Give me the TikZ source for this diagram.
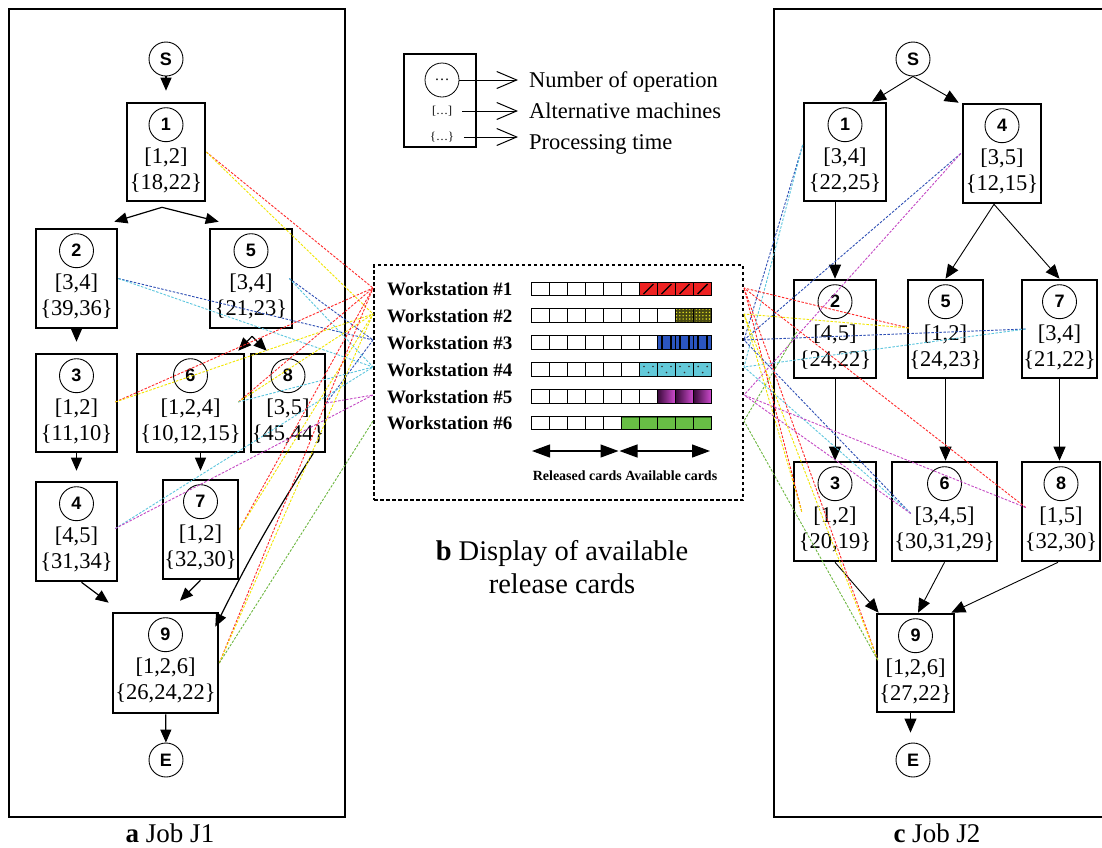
\documentclass[tikz,border=0pt]{standalone}
\usepackage{fontspec}
\setmainfont{Liberation Serif}
\newfontfamily\sansf{Liberation Sans}
\usetikzlibrary{arrows.meta,calc,patterns.meta}

\definecolor{wred}{HTML}{FF2A2A}
\definecolor{wyel}{HTML}{F2E600}
\definecolor{wblue}{HTML}{2E4FB5}
\definecolor{wcyan}{HTML}{5CC6DE}
\definecolor{wmag}{HTML}{C447C4}
\definecolor{wgreen}{HTML}{6DB740}
\definecolor{cardred}{HTML}{EE2222}
\definecolor{cardolive}{HTML}{4A4A12}
\definecolor{carddots}{HTML}{E0E020}
\definecolor{cardblue}{HTML}{2B55C0}
\definecolor{cardcyan}{HTML}{62C9D9}
\definecolor{cardpurpD}{HTML}{3A0A3A}
\definecolor{cardpurpL}{HTML}{D24CD2}
\definecolor{cardgreen}{HTML}{68BE45}
\definecolor{darkgreen}{HTML}{2E6A1A}

\newcommand\mkop[8]{%
  \node[opbox, minimum width=#4pt, minimum height=#5pt] (#1) at (#2,#3) {};
  \node[numc] (#1n) at ($(#1.north)+(0,23)$) {#6};
  \node[optxt] (#1m) at ($(#1.north)+(0,56)$) {#7};
  \node[optxt] (#1t) at ($(#1.north)+(0,82)$) {#8};
}

\begin{document}
\begin{tikzpicture}[x=1pt,y=-1pt,
  opbox/.style={draw, line width=2.6pt, inner sep=0pt},
  numc/.style={draw, circle, line width=0.9pt, minimum size=34pt, inner sep=0pt,
    font=\sansf\bfseries\fontsize{18}{18}\selectfont},
  optxt/.style={inner sep=0pt, font=\fontsize{22.5}{24}\selectfont},
  arr/.style={line width=1.2pt, -{Triangle[length=13pt,width=11pt]}},
  arrb/.style={line width=0.9pt, -{Triangle[length=14pt,width=12pt]}},
  wsl/.style={dash pattern=on 2.5pt off 1.5pt, line width=0.9pt},
  frame/.style={line width=2.5pt},
  capfont/.style={inner sep=0pt, font=\fontsize{27}{30}\selectfont},
  capbfont/.style={inner sep=0pt, font=\fontsize{28.5}{30}\selectfont},
  legtxt/.style={inner sep=0pt, font=\fontsize{22.5}{24}\selectfont},
  legarr/.style={line width=1pt, -{Straight Barb[length=20pt,width=17pt]}},
  wslab/.style={inner sep=0pt, font=\bfseries\fontsize{19}{20}\selectfont},
  cell/.style={line width=0.9pt},
  dblarr/.style={line width=1.2pt, {Triangle[length=18pt,width=13pt]}-{Triangle[length=18pt,width=13pt]}}
]
\useasboundingbox (0,0) rectangle (1102,847);
\fill[white] (0,0) rectangle (1102,847);

% ---------------- frames ----------------
\node[draw, frame, minimum width=336pt, minimum height=808pt, inner sep=0pt] (jobA) at (177,413) {};
\draw[frame] (1104,9) -- (774,9) -- (774,817) -- (1104,817);

% ---------------- Job J1 ----------------
\node[numc] (s1) at (166,59) {S};
\node[numc] (e1) at (166,760) {E};
\mkop{a1}{166}{152}{78}{98}{1}{[1,2]}{\{18,22\}}
\mkop{a2}{76.5}{278.5}{81}{99}{2}{[3,4]}{\{39,36\}}
\mkop{a5}{251}{278.5}{82}{99}{5}{[3,4]}{\{21,23\}}
\mkop{a3}{76.5}{403}{81}{98}{3}{[1,2]}{\{11,10\}}
\mkop{a6}{190.5}{403}{107}{98}{6}{[1,2,4]}{\{10,12,15\}}
\mkop{a8}{288}{403}{74}{98}{8}{[3,5]}{\{45,44\}}
\mkop{a4}{76.5}{531.5}{81}{99}{4}{[4,5]}{\{31,34\}}
\mkop{a7}{200.5}{529.5}{75}{99}{7}{[1,2]}{\{32,30\}}
\mkop{a9}{165.5}{663}{105}{100}{9}{[1,2,6]}{\{26,24,22\}}

\draw[arr, shorten >=11pt] (s1) -- (a1);
\draw[arr] ($(a1.south)+(-4,5)$) -- ($(a2.north east)+(-4,-6)$);
\draw[arr] ($(a1.south)+(-4,5)$) -- ($(a5.north west)+(10,-6)$);
\draw[arr, shorten >=11pt] (a2) -- (a3);
\draw[arr] ($(a5.south)+(1,7)$) -- ($(a6.north east)+(-7,-2)$);
\draw[arr] ($(a5.south)+(1,7)$) -- ($(a8.north west)+(17,-2)$);
\draw[arr, shorten >=10pt] (a3) -- (a4);
\draw[arr, shorten >=8pt] (a7.north |- a6.south) -- (a7.north);
\draw[arr] ($(a4.south)+(5,0)$) -- ($(a9.north west)+(-3,-9)$);
\draw[arr] (a7.south) -- ($(a9.north)+(14.5,-11)$);
\draw[arr] ($(a8.south east)+(-13,0)$) to[bend right=3] ($(a9.north east)+(-4,15)$);
\draw[arr] (a9) -- (e1);

\node[capfont, anchor=base] (capA) at (170,842) {\textbf{a} Job J1};

% ---------------- Job J2 ----------------
\node[numc] (s2) at (913,59) {S};
\node[numc] (e2) at (913,760) {E};
\mkop{c1}{845}{152}{82}{98}{1}{[3,4]}{\{22,25\}}
\mkop{c4}{1002}{153.5}{78}{99}{4}{[3,5]}{\{12,15\}}
\mkop{c2}{835}{329}{82}{98}{2}{[4,5]}{\{24,22\}}
\mkop{c5}{945.5}{329}{75}{98}{5}{[1,2]}{\{24,23\}}
\mkop{c7}{1059.5}{329}{75}{98}{7}{[3,4]}{\{21,22\}}
\mkop{c3}{835}{511.5}{82}{99}{3}{[1,2]}{\{20,19\}}
\mkop{c6}{944.5}{511.5}{105}{99}{6}{[3,4,5]}{\{30,31,29\}}
\mkop{c8}{1061}{511.5}{78}{99}{8}{[1,5]}{\{32,30\}}
\mkop{c9}{915.5}{663}{77}{98}{9}{[1,2,6]}{\{27,22\}}

\draw[arrb] (s2.south) -- ($(c1.north)+(27,0)$);
\draw[arrb] (s2.south) -- ($(c4.north west)+(-3,0)$);
\draw[arrb] (c2.north |- c1.south) -- (c2.north);
\draw[arrb] ($(c4.south)+(-8,0)$) -- (c5.north);
\draw[arrb] ($(c4.south)+(-8,0)$) -- (c7.north);
\draw[arrb] (c2) -- (c3);
\draw[arrb] (c5.south) -- (c5.south |- c6.north);
\draw[arrb] (c7.south) -- (c7.south |- c8.north);
\draw[arrb] (c3.south) -- ($(c9.north west)+(3,0)$);
\draw[arrb] (c6.south) -- ($(c9.north)+(2.5,0)$);
\draw[arrb] ($(c8.south)+(-3,0)$) -- ($(c9.north east)+(-4,0)$);
\draw[arrb, shorten >=10pt] ($(c9.south)+(-5,0)$) -- ($(c9.south |- e2.north)+(-5,0)$);

\node[capfont, anchor=base] (capC) at (937,842) {\textbf{c} Job J2};

% ---------------- legend ----------------
\node[draw, line width=2.4pt, minimum width=72pt, minimum height=93pt, inner sep=0pt] (leg) at (440,100.5) {};
\node[draw, circle, line width=0.8pt, minimum size=34pt, inner sep=0pt, font=\fontsize{15}{15}\selectfont] (legc) at (442,80) {…};
\node[inner ysep=1pt, inner xsep=10pt, font=\fontsize{12}{12}\selectfont] (legm) at (442,111) {[…]};
\node[inner ysep=1pt, inner xsep=10pt, font=\fontsize{12}{12}\selectfont] (legt) at (442,137) {\{…\}};
\node[legtxt, anchor=base west] (legl1) at (529,87) {Number of operation};
\node[legtxt, anchor=base west] (legl2) at (529,118) {Alternative machines};
\node[legtxt, anchor=base west] (legl3) at (529,149) {Processing time};
\draw[legarr, shorten >=11pt] (legc.east) -- (legc.east -| legl1.west);
\draw[legarr, shorten >=11pt] (legm.east) -- (legm.east -| legl2.west);
\draw[legarr, shorten >=11pt] (legt.east) -- (legt.east -| legl3.west);

% ---------------- panel b ----------------
\node[draw, line width=2.6pt, dash pattern=on 3.5pt off 2.5pt, minimum width=369pt, minimum height=235pt, inner sep=0pt] (panelB) at (558.5,382.5) {};

\foreach \i/\y in {1/289,2/315.5,3/342.5,4/369.5,5/396.5,6/423}{
  \node[wslab, anchor=base west] (ws\i) at (387,\y+6.5) {Workstation \#\i};
}
% row 1 red hatched
\fill[cardred] (639.42,282.25) rectangle (711.7,295.75);
\foreach \k in {6,...,9}{\draw[line width=1.3pt] ({531+\k*18.07+4},294) -- ({531+\k*18.07+14},284);}
% row 2 olive dots
\fill[cardolive] (675.56,308.75) rectangle (711.7,322.25);
\fill[pattern={Dots[distance=3.3pt,radius=0.8pt]}, pattern color=carddots] (675.56,308.75) rectangle (711.7,322.25);
% row 3 blue stripes
\fill[cardblue] (657.49,335.75) rectangle (711.7,349.25);
\foreach \j in {0,...,5}{\draw[line width=2.8pt] ({657.49+4.5+9*\j},335.75) -- ++(0,13.5);}
% row 4 cyan dots
\fill[cardcyan] (639.42,362.75) rectangle (711.7,376.25);
\foreach \k in {6,...,9}{
  \fill[black!80] ({531+\k*18.07+4.5},366.5) circle (0.9pt);
  \fill[black!80] ({531+\k*18.07+13.5},366.5) circle (0.9pt);
  \fill[black!80] ({531+\k*18.07+9},372.5) circle (0.9pt);
}
% row 5 purple gradient
\foreach \k in {7,8,9}{\shade[left color=cardpurpD, right color=cardpurpL] ({531+\k*18.07},389.75) rectangle ++(18.07,13.5);}
% row 6 green
\fill[cardgreen] (621.35,416.25) rectangle (711.7,429.75);
\draw[darkgreen, line width=1.8pt] (621.35,417) -- (711.7,417);
% cell borders
\foreach \y in {289,315.5,342.5,369.5,396.5,423}{
  \foreach \k in {0,...,9}{\draw[cell] ({531+\k*18.07},{\y-6.75}) rectangle ++(18.07,13.5);}
}
\coordinate (rl) at (532,451);
\coordinate (rm) at (618.5,451);
\coordinate (rr) at (710,451);
\draw[dblarr] (rl) -- (rm);
\draw[dblarr] ($(rm)+(1,0)$) -- (rr);
\node[inner sep=0pt, anchor=base, font=\bfseries\fontsize{14}{15}\selectfont] (cards) at (625,480) {Released cards Available cards};

\node[capbfont, anchor=base] (capB1) at (562,560) {\textbf{b} Display of available};
\node[capbfont, anchor=base] (capB2) at (562,593) {release cards};

% ---------------- workstation links ----------------
\foreach \i/\y in {1/288,2/314,3/340,4/367,5/395,6/421}{
  \coordinate (wl\i) at (373,\y);
  \coordinate (wr\i) at (744,\y);
}
\coordinate (pa1) at (a1.east);
\coordinate (pa2) at (a2.east);
\coordinate (pa5) at ($(a5.east)+(-4,0)$);
\coordinate (pa3) at ($(a3.east)+(-3,-1)$);
\coordinate (pa6) at ($(a6.east)+(-7,-1)$);
\coordinate (pa8) at (a8.east);
\coordinate (pa4) at ($(a4.east)+(-3,-3)$);
\coordinate (pa7) at (a7.east);
\coordinate (pa9) at (a9.east);
\coordinate (pc1) at ($(c1.west)+(0,-7)$);
\coordinate (pc4) at ($(c4.west)+(-1,0)$);
\coordinate (pc2) at ($(c2.west)+(4,3)$);
\coordinate (pc5) at ($(c5.west)+(2,-1)$);
\coordinate (pc7) at ($(c7.west)+(5,0)$);
\coordinate (pc3) at ($(c3.west)+(9,0)$);
\coordinate (pc6) at ($(c6.west)+(20,2)$);
\coordinate (pc8) at ($(c8.west)+(5,-4)$);
\coordinate (pc9) at ($(c9.west)+(2,-3)$);

\foreach \p/\w/\c in {pa1/1/wred, pa1/2/wyel, pa2/3/wblue, pa2/4/wcyan, pa5/3/wblue, pa5/4/wcyan,
  pa3/1/wred, pa3/2/wyel, pa6/1/wred, pa6/2/wyel, pa6/4/wcyan, pa8/3/wblue, pa8/5/wmag,
  pa4/4/wcyan, pa4/5/wmag, pa7/1/wred, pa7/2/wyel, pa9/1/wred, pa9/2/wyel, pa9/6/wgreen}{
  \draw[wsl, \c] (\p) -- (wl\w);
}
\foreach \p/\w/\c in {pc1/3/wblue, pc1/4/wcyan, pc4/3/wblue, pc4/5/wmag, pc2/6/wgreen,
  pc5/1/wred, pc5/2/wyel, pc7/3/wblue, pc7/4/wcyan, pc3/1/wred, pc3/2/wyel,
  pc6/3/wblue, pc6/4/wcyan, pc6/5/wmag, pc8/1/wred, pc8/5/wmag, pc9/1/wred, pc9/2/wyel, pc9/6/wgreen}{
  \draw[wsl, \c] (\p) -- (wr\w);
}
\end{tikzpicture}
\end{document}
